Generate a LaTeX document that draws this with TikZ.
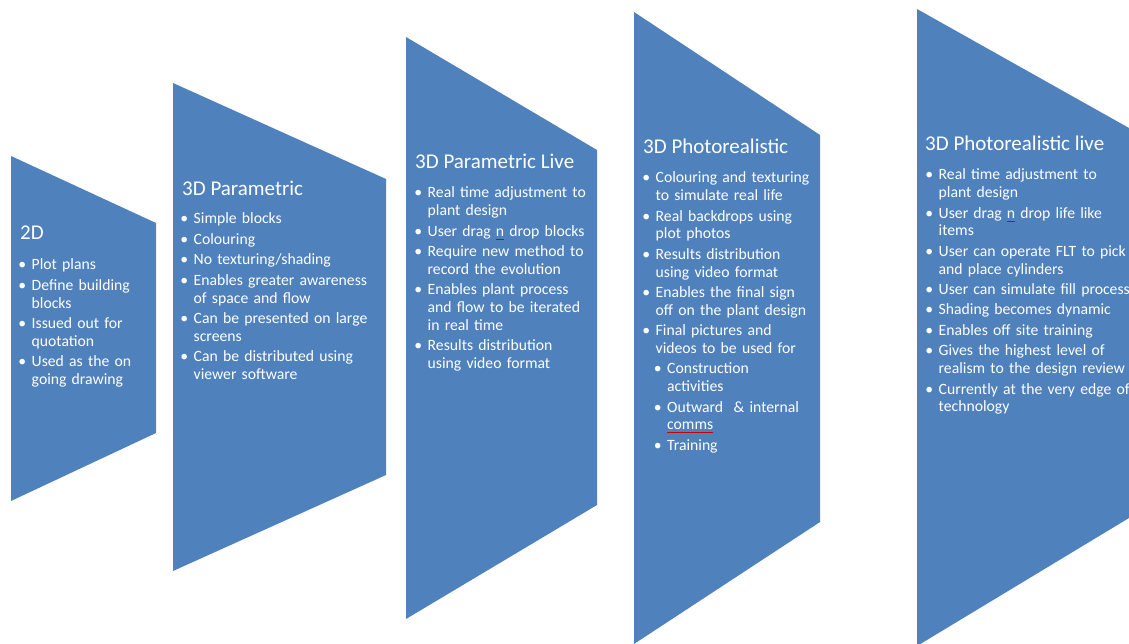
\documentclass[tikz,border=0pt]{standalone}
\usepackage{fontspec}
\setmainfont{Carlito}
\usepackage{enumitem}
\setlist[itemize]{label=\textbullet, labelwidth=5pt, labelsep=5.5pt, leftmargin=10.5pt,
  itemsep=2.7pt, parsep=0pt, topsep=0pt, partopsep=0pt}
\setlist[itemize,2]{topsep=2.7pt, leftmargin=11.5pt}
\definecolor{stageblue}{HTML}{4F81BD}
% red line the spell checker puts under a word
\newsavebox\spellbox
\newcommand\spell[1]{\sbox\spellbox{#1}\rlap{\textcolor{red!80!black}{\rule[-3pt]{\wd\spellbox}{0.4pt}}}#1}
\begin{document}
\begin{tikzpicture}
    [
    x=1pt, y=-1pt,
    stage/.style={
      fill=stageblue
    },
    heading/.style={
      anchor=base west,
      inner sep=0pt,
      text=white,
      font=\fontsize{21}{25}\selectfont
    },
    points/.style={
      anchor=north west,
      inner sep=0pt,
      text=white,
      text width=240pt,
      align=left,
      font=\fontsize{15.7}{17.75}\selectfont
    }]
    \useasboundingbox (0,0) rectangle (1129,644);
    % the five stages, each narrowing to the right
    \fill[stage] (11,156) -- (156,223) -- (156,433) -- (11,501) -- cycle;
    \fill[stage] (173,83) -- (386,179) -- (386,475) -- (173,571) -- cycle;
    \fill[stage] (406,37) -- (597,150) -- (597,505) -- (406,619) -- cycle;
    \fill[stage] (634,12) -- (820,135) -- (820,522) -- (634,644) -- cycle;
    \fill[stage] (917,9) -- (1129,128) -- (1129,518) -- (917,646) -- cycle;
    % 2D
    \node (t1) at (20,240) [heading] {2D};
    \node (l1) at (21,252) [points] {\begin{itemize}
      \item Plot plans
      \item Define building\newline blocks
      \item Issued out for\newline quotation
      \item Used as the on\newline going drawing
    \end{itemize}};
    % 3D parametric
    \node (t2) at (182,196) [heading] {3D Parametric};
    \node (l2) at (183,206) [points] {\begin{itemize}
      \item Simple blocks
      \item Colouring
      \item No texturing/shading
      \item Enables greater awareness\newline of space and flow
      \item Can be presented on large\newline screens
      \item Can be distributed using\newline viewer software
    \end{itemize}};
    % 3D parametric live
    \node (t3) at (415,169) [heading] {3D Parametric Live};
    \node (l3) at (417,180) [points] {\begin{itemize}
      \item Real time adjustment to\newline plant design
      \item User drag \spell{n} drop blocks
      \item Require new method to\newline record the evolution
      \item Enables plant process\newline and flow to be iterated\newline in real time
      \item Results distribution\newline using video format
    \end{itemize}};
    % 3D photorealistic
    \node (t4) at (643,154) [heading] {3D Photorealistic};
    \node (l4) at (645,165) [points] {\begin{itemize}
      \item Colouring and texturing\newline to simulate real life
      \item Real backdrops using\newline plot photos
      \item Results distribution\newline using video format
      \item Enables the final sign\newline off on the plant design
      \item Final pictures and\newline videos to be used for
      \begin{itemize}
        \item Construction\newline activities
        \item Outward\ \ \& internal\newline \spell{comms}
        \item Training
      \end{itemize}
    \end{itemize}};
    % 3D photorealistic live
    \node (t5) at (925,151) [heading] {3D Photorealistic live};
    \node (l5) at (928,162) [points] {\begin{itemize}
      \item Real time adjustment to\newline plant design
      \item User drag \spell{n} drop life like\newline items
      \item User can operate FLT to pick\newline and place cylinders
      \item User can simulate fill process
      \item Shading becomes dynamic
      \item Enables off site training
      \item Gives the highest level of\newline realism to the design review
      \item Currently at the very edge of\newline technology
    \end{itemize}};
  \end{tikzpicture}
\end{document}
